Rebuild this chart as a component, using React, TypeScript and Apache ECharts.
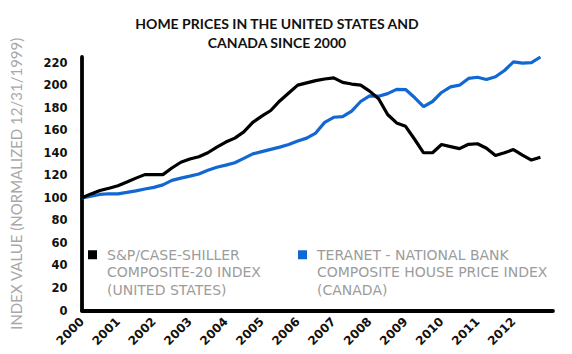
import React, { useEffect, useRef } from 'react';
import * as echarts from 'echarts';

// Quarterly observations, Q1 2000 .. Q4 2012 (index, 12/31/1999 = 100)
const usIndex = [
  100, 103.5, 106.5, 108.5, 110.8, 114, 117.5, 120.6, 120.6, 120.6, 126.5, 131.6,
  134.5, 136.5, 140, 145, 149.5, 153, 158.5, 167, 172.5, 177.5, 186, 193,
  200, 202, 204, 205.5, 206.5, 202.5, 201, 200, 194.7, 188, 174, 166.5,
  163.5, 152, 140, 140, 147.3, 145.5, 143.7, 147.5, 148, 144, 137.5, 140,
  142.8, 138, 133.5, 136,
];
const caIndex = [
  100, 101.5, 103, 103.6, 103.5, 104.8, 106.2, 107.8, 109.3, 111.5, 115.5, 117.5,
  119.3, 121.2, 124.5, 127.2, 129, 131.2, 135, 139, 141, 143, 145, 147.3,
  150.5, 153, 157.5, 167, 171.5, 172, 177, 185.5, 190.5, 190.2, 192.5, 196.3,
  196.1, 189, 181, 185.5, 193.5, 198.5, 200, 206, 207, 205, 207.5, 213,
  220.7, 219.5, 220, 225,
];
const startYear = 2000;
const lastYearLabel = 2012;
const usName = 'S&P/CASE-SHILLER COMPOSITE-20 INDEX (UNITED STATES)';
const caName = 'TERANET - NATIONAL BANK COMPOSITE HOUSE PRICE INDEX (CANADA)';
const usLegendLines = ['S&P/CASE-SHILLER', 'COMPOSITE-20 INDEX', '(UNITED STATES)'];
const caLegendLines = ['TERANET - NATIONAL BANK', 'COMPOSITE HOUSE PRICE INDEX', '(CANADA)'];
const titleText = 'HOME PRICES IN THE UNITED STATES AND\nCANADA SINCE 2000';
const yAxisName = 'INDEX VALUE (NORMALIZED 12/31/1999)';

const FONT = 'Lato';
const NUM_FONT = 'DejaVu Sans';
const LEGEND_FONT = 'DejaVu Sans';

export default function App() {
  const ref = useRef<HTMLDivElement>(null);
  useEffect(() => {
    document.body.style.margin = '0';
    if (!ref.current) return;
    const chart = echarts.init(ref.current, undefined, { renderer: 'svg' });
    const toPoints = (arr: number[]) => arr.map((v, i) => [startYear + i / 4, v]);
    const legendText = {
      color: '#9c9c9c',
      fontFamily: LEGEND_FONT,
      fontSize: 14,
      lineHeight: 17.5,
      padding: [0, 0, 0, 5],
    };
    // two blank leading lines keep the first text line level with the marker
    const legendLabel = (lines: string[]) => '\n\n' + lines.join('\n');
    chart.setOption({
      animation: false,
      backgroundColor: '#ffffff',
      title: {
        text: titleText,
        left: 277,
        top: 13.5,
        textAlign: 'center',
        padding: 0,
        textStyle: {
          fontFamily: FONT,
          fontWeight: 'bold',
          fontSize: 14,
          lineHeight: 19.5,
          color: '#111',
        },
      },
      legend: [
        {
          data: [usName],
          left: 88,
          top: 211,
          padding: 0,
          itemWidth: 9,
          itemHeight: 9,
          icon: 'rect',
          selectedMode: false,
          formatter: () => legendLabel(usLegendLines),
          textStyle: legendText,
        },
        {
          data: [caName],
          left: 298,
          top: 211,
          padding: 0,
          itemWidth: 9,
          itemHeight: 9,
          icon: 'rect',
          selectedMode: false,
          formatter: () => legendLabel(caLegendLines),
          textStyle: legendText,
        },
      ],
      grid: { left: 74.5, right: 19, top: 57, bottom: 43.5, containLabel: false },
      xAxis: {
        type: 'value',
        min: 2000,
        max: 2013.1,
        interval: 1,
        axisLine: { show: true, lineStyle: { color: '#000', width: 3.8 } },
        axisTick: { show: false },
        splitLine: { show: false },
        axisLabel: {
          rotate: 45,
          margin: 9,
          fontFamily: NUM_FONT,
          fontWeight: 'bold',
          fontSize: 12,
          color: '#111',
          formatter: (v: number) => (v <= lastYearLabel ? String(v) : ''),
        },
      },
      yAxis: {
        type: 'value',
        min: 0,
        max: 225,
        interval: 20,
        name: yAxisName,
        nameLocation: 'middle',
        nameGap: 59,
        nameTextStyle: { color: '#a8a8a8', fontFamily: FONT, fontSize: 15 },
        axisLine: { show: true, lineStyle: { color: '#000', width: 3.8 } },
        axisTick: { show: false },
        splitLine: { show: false },
        axisLabel: {
          margin: 14.5,
          fontFamily: NUM_FONT,
          fontWeight: 'bold',
          fontSize: 11.5,
          color: '#111',
        },
      },
      series: [
        {
          name: usName,
          type: 'line',
          data: toPoints(usIndex),
          showSymbol: false,
          color: '#000',
          lineStyle: { width: 3.2, color: '#000' },
          z: 3,
        },
        {
          name: caName,
          type: 'line',
          data: toPoints(caIndex),
          showSymbol: false,
          color: '#1268d3',
          lineStyle: { width: 3.2, color: '#1268d3' },
          z: 2,
        },
      ],
    });
    return () => chart.dispose();
  }, []);
  return <div ref={ref} style={{ width: 572, height: 354 }} />;
}
